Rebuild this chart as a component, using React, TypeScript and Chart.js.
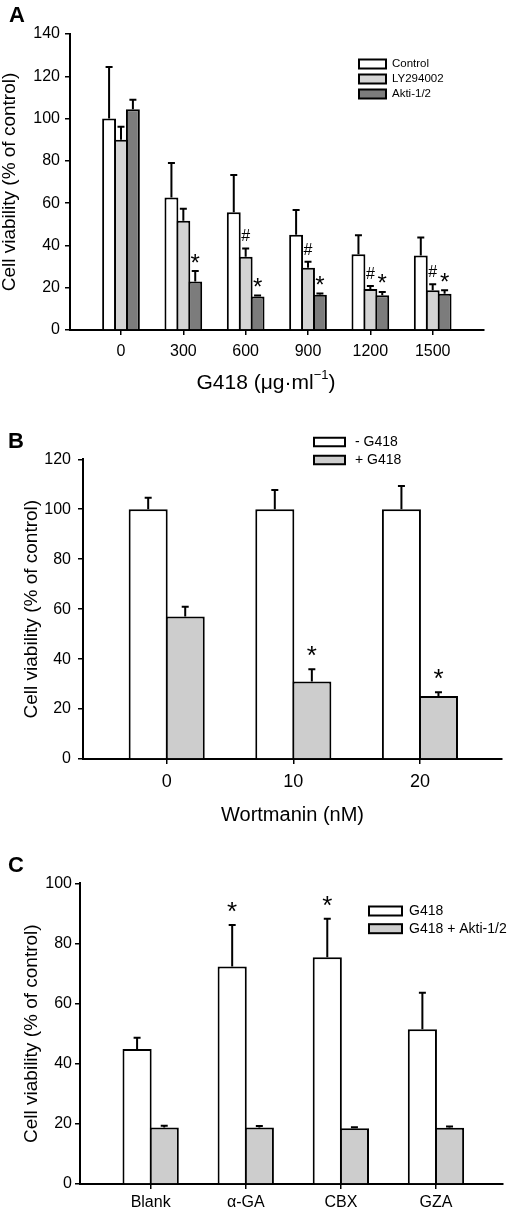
import React, { useEffect, useRef } from "react";
import { Chart, registerables } from "chart.js";

Chart.register(...registerables);

const FONT = "'Liberation Sans', Arial, Helvetica, sans-serif";

// ---------- Panel A ----------
const doseLabelsA = ["0", "300", "600", "900", "1200", "1500"];
const seriesNamesA = ["Control", "LY294002", "Akti-1/2"];
const controlA = [100, 62.7, 55.7, 45.1, 35.8, 35.2];
const controlErrA = [24.4, 16.3, 17.6, 11.7, 9.0, 8.6];
const lyA = [90, 51.7, 34.7, 29.5, 19.4, 18.8];
const lyErrA = [6.1, 5.7, 3.9, 2.8, 1.4, 2.8];
const aktiA = [104.4, 22.9, 15.9, 16.7, 16.4, 17.2];
const aktiErrA = [4.5, 5.0, 0.4, 0.6, 1.6, 1.6];
const controlMarksA = ["", "", "", "", "", ""];
const lyMarksA = ["", "", "#", "#", "#", "#"];
const aktiMarksA = ["", "*", "*", "*", "*", "*"];
const xTitleAParts = ["G418 (\u03bcg\u00b7ml", "\u22121", ")"];

// ---------- Panel B ----------
const wortLabelsB = ["0", "10", "20"];
const seriesNamesB = ["- G418", "+ G418"];
const minusG418B = [100, 100, 100];
const minusG418ErrB = [4.6, 7.7, 9.3];
const plusG418B = [57.1, 31.0, 25.2];
const plusG418ErrB = [3.9, 4.9, 1.5];
const minusMarksB = ["", "", ""];
const plusMarksB = ["", "*", "*"];
const xTitleB = "Wortmanin (nM)";

// ---------- Panel C ----------
const treatLabelsC = ["Blank", "\u03b1-GA", "CBX", "GZA"];
const seriesNamesC = ["G418", "G418 + Akti-1/2"];
const g418C = [44.9, 72.3, 75.4, 51.5];
const g418ErrC = [3.7, 13.8, 12.8, 12.1];
const g418AktiC = [18.8, 18.8, 18.5, 18.7];
const g418AktiErrC = [0.6, 0.5, 0.4, 0.4];
const g418MarksC = ["", "*", "*", ""];
const g418AktiMarksC = ["", "", "", ""];

const yTitle = "Cell viability (% of control)";

// ---------- styles / layout ----------
const WHITE = "#ffffff";
const LIGHT = "#d4d4d4";
const DARK = "#7c7c7c";
const GRAY = "#cdcdcd";

type Series = { label: string; values: number[]; errors: number[]; marks: string[]; color: string };

type Spec = {
  key: string;
  letter: string;
  letterPos: { x: number; y: number };
  top: number;
  height: number;
  padTop: number;
  padRight: number;
  yWidth: number;
  xHeight: number;
  yMax: number;
  xMin: number;
  xMax: number;
  labels: string[];
  series: Series[];
  catPct: number;
  barPct: number;
  yTickSize: number;
  yTickPad: number;
  yTitlePad: number;
  xTickSize: number;
  xTickPad: number;
  xTitle: string | null;
  xTitleSize: number;
  xTitlePadBottom: number;
  customXTitle: { x: number; y: number; size: number } | null;
  legend: { x: number; y0: number; dy: number; boxW: number; boxH: number; textX: number; size: number };
  markOffset: number;
  starSize: number;
  hashSize: number;
  cap: number;
};

const panelA: Spec = {
  key: "A",
  letter: "A",
  letterPos: { x: 9, y: 22 },
  top: 0,
  height: 400,
  padTop: 34,
  padRight: 27,
  yWidth: 70,
  xHeight: 70,
  yMax: 140,
  xMin: -0.818,
  xMax: 5.823,
  labels: doseLabelsA,
  series: [
    { label: seriesNamesA[0], values: controlA, errors: controlErrA, marks: controlMarksA, color: WHITE },
    { label: seriesNamesA[1], values: lyA, errors: lyErrA, marks: lyMarksA, color: LIGHT },
    { label: seriesNamesA[2], values: aktiA, errors: aktiErrA, marks: aktiMarksA, color: DARK },
  ],
  catPct: 0.573,
  barPct: 1.168,
  yTickSize: 16,
  yTickPad: 5,
  yTitlePad: 0,
  xTickSize: 16,
  xTickPad: 7.4,
  xTitle: null,
  xTitleSize: 0,
  xTitlePadBottom: 0,
  customXTitle: { x: 266, y: 383, size: 21 },
  legend: { x: 359, y0: 64, dy: 15, boxW: 27, boxH: 9, textX: 392, size: 11.5 },
  markOffset: 13,
  starSize: 24,
  hashSize: 16,
  cap: 7,
};

const panelB: Spec = {
  key: "B",
  letter: "B",
  letterPos: { x: 8, y: 48 },
  top: 400,
  height: 430,
  padTop: 59.3,
  padRight: 9,
  yWidth: 83,
  xHeight: 71,
  yMax: 120,
  xMin: -0.661,
  xMax: 2.648,
  labels: wortLabelsB,
  series: [
    { label: seriesNamesB[0], values: minusG418B, errors: minusG418ErrB, marks: minusMarksB, color: WHITE },
    { label: seriesNamesB[1], values: plusG418B, errors: plusG418ErrB, marks: plusMarksB, color: GRAY },
  ],
  catPct: 0.585,
  barPct: 1.054,
  yTickSize: 16,
  yTickPad: 7,
  yTitlePad: 22,
  xTickSize: 18,
  xTickPad: 6.9,
  xTitle: xTitleB,
  xTitleSize: 20,
  xTitlePadBottom: 3,
  customXTitle: null,
  legend: { x: 314, y0: 42, dy: 18, boxW: 31, boxH: 8.5, textX: 355, size: 14 },
  markOffset: 18,
  starSize: 26,
  hashSize: 16,
  cap: 7,
};

const panelC: Spec = {
  key: "C",
  letter: "C",
  letterPos: { x: 8, y: 42 },
  top: 830,
  height: 385,
  padTop: 53.3,
  padRight: 8,
  yWidth: 80,
  xHeight: 31,
  yMax: 100,
  xMin: -0.743,
  xMax: 3.705,
  labels: treatLabelsC,
  series: [
    { label: seriesNamesC[0], values: g418C, errors: g418ErrC, marks: g418MarksC, color: WHITE },
    { label: seriesNamesC[1], values: g418AktiC, errors: g418AktiErrC, marks: g418AktiMarksC, color: GRAY },
  ],
  catPct: 0.571,
  barPct: 1.074,
  yTickSize: 16,
  yTickPad: 3,
  yTitlePad: 22,
  xTickSize: 16,
  xTickPad: 4.4,
  xTitle: null,
  xTitleSize: 0,
  xTitlePadBottom: 0,
  customXTitle: null,
  legend: { x: 369, y0: 81, dy: 17.7, boxW: 33, boxH: 9, textX: 409, size: 14 },
  markOffset: 18,
  starSize: 26,
  hashSize: 16,
  cap: 7,
};

const panels = [panelA, panelB, panelC];

function makePlugins(p: Spec) {
  const errorBars = {
    id: "errorBars" + p.key,
    afterDatasetsDraw(chart: any) {
      const ctx = chart.ctx;
      const y = chart.scales.y;
      ctx.save();
      ctx.strokeStyle = "#000";
      ctx.lineWidth = 2;
      chart.data.datasets.forEach((ds: any, d: number) => {
        const meta = chart.getDatasetMeta(d);
        meta.data.forEach((bar: any, i: number) => {
          const v = ds.data[i].y;
          const e = ds.errors[i];
          const top = y.getPixelForValue(v + e);
          ctx.beginPath();
          ctx.moveTo(bar.x, bar.y);
          ctx.lineTo(bar.x, top);
          ctx.moveTo(bar.x - p.cap / 2, top);
          ctx.lineTo(bar.x + p.cap / 2, top);
          ctx.stroke();
        });
      });
      ctx.restore();
    },
  };

  const marks = {
    id: "marks" + p.key,
    afterDatasetsDraw(chart: any) {
      const ctx = chart.ctx;
      const y = chart.scales.y;
      ctx.save();
      ctx.fillStyle = "#000";
      ctx.textAlign = "center";
      ctx.textBaseline = "alphabetic";
      chart.data.datasets.forEach((ds: any, d: number) => {
        const meta = chart.getDatasetMeta(d);
        meta.data.forEach((bar: any, i: number) => {
          const m = ds.marks[i];
          if (!m) return;
          const v = ds.data[i].y;
          const e = ds.errors[i];
          const cy = y.getPixelForValue(v + e) - p.markOffset;
          ctx.font = m === "*" ? `${p.starSize}px ${FONT}` : `${p.hashSize}px ${FONT}`;
          const tm = ctx.measureText(m);
          const asc = tm.actualBoundingBoxAscent;
          const desc = tm.actualBoundingBoxDescent;
          ctx.fillText(m, bar.x, cy + (asc - desc) / 2);
        });
      });
      ctx.restore();
    },
  };

  const legendAndLabels = {
    id: "legendLabels" + p.key,
    afterDraw(chart: any) {
      const ctx = chart.ctx;
      const L = p.legend;
      ctx.save();
      chart.data.datasets.forEach((ds: any, d: number) => {
        const yc = L.y0 + d * L.dy;
        ctx.fillStyle = ds.backgroundColor;
        ctx.fillRect(L.x, yc - L.boxH / 2, L.boxW, L.boxH);
        ctx.lineWidth = 2;
        ctx.strokeStyle = "#000";
        ctx.strokeRect(L.x, yc - L.boxH / 2, L.boxW, L.boxH);
        ctx.fillStyle = "#000";
        ctx.font = `${L.size}px ${FONT}`;
        ctx.textAlign = "left";
        ctx.textBaseline = "middle";
        ctx.fillText(ds.label, L.textX, yc);
      });
      // panel letter
      ctx.fillStyle = "#000";
      ctx.font = `bold 22px ${FONT}`;
      ctx.textAlign = "left";
      ctx.textBaseline = "alphabetic";
      ctx.fillText(p.letter, p.letterPos.x, p.letterPos.y);
      // custom x title with superscript
      if (p.customXTitle) {
        const T = p.customXTitle;
        const baseFont = `${T.size}px ${FONT}`;
        const supFont = `${Math.round(T.size * 0.62)}px ${FONT}`;
        const parts = [
          { t: xTitleAParts[0], f: baseFont, dy: 0 },
          { t: xTitleAParts[1], f: supFont, dy: -T.size * 0.38 },
          { t: xTitleAParts[2], f: baseFont, dy: 0 },
        ];
        let total = 0;
        const widths = parts.map((pt) => {
          ctx.font = pt.f;
          const w = ctx.measureText(pt.t).width;
          total += w;
          return w;
        });
        let x = T.x - total / 2;
        ctx.textBaseline = "middle";
        parts.forEach((pt, i) => {
          ctx.font = pt.f;
          ctx.fillText(pt.t, x, T.y + pt.dy);
          x += widths[i];
        });
      }
      ctx.restore();
    },
  };
  return [errorBars, marks, legendAndLabels];
}

function buildConfig(p: Spec): any {
  const datasets = p.series.map((s) => ({
    label: s.label,
    data: s.values.map((v, i) => ({ x: i, y: v })),
    errors: s.errors,
    marks: s.marks,
    backgroundColor: s.color,
    borderColor: "#000",
    borderWidth: 2,
    inflateAmount: 0,
    categoryPercentage: p.catPct,
    barPercentage: p.barPct,
  }));
  return {
    type: "bar",
    data: { datasets },
    plugins: makePlugins(p),
    options: {
      animation: false,
      responsive: false,
      devicePixelRatio: 1,
      layout: { padding: { left: 0, top: p.padTop, right: p.padRight, bottom: 0 } },
      plugins: { legend: { display: false }, tooltip: { enabled: false } },
      scales: {
        x: {
          type: "linear",
          min: p.xMin,
          max: p.xMax,
          offset: false,
          afterBuildTicks: (scale: any) => {
            scale.ticks = p.labels.map((_, i) => ({ value: i }));
          },
          afterFit: (scale: any) => {
            scale.height = p.xHeight;
          },
          ticks: {
            autoSkip: false,
            maxRotation: 0,
            minRotation: 0,
            color: "#000",
            padding: p.xTickPad,
            font: { size: p.xTickSize, family: FONT },
            callback: (v: number) => (p.labels[v] !== undefined ? p.labels[v] : ""),
          },
          grid: {
            display: true,
            offset: false,
            drawOnChartArea: false,
            drawTicks: true,
            tickLength: 5,
            tickWidth: 1.5,
            tickColor: "#000",
            color: "#000",
            lineWidth: 1.5,
          },
          border: { display: true, color: "#000", width: 2 },
          title: p.xTitle
            ? {
                display: true,
                text: p.xTitle,
                color: "#000",
                font: { size: p.xTitleSize, family: FONT },
                padding: { top: 0, bottom: p.xTitlePadBottom },
              }
            : { display: false },
        },
        y: {
          min: 0,
          max: p.yMax,
          afterFit: (scale: any) => {
            scale.width = p.yWidth;
          },
          ticks: {
            stepSize: 20,
            color: "#000",
            padding: p.yTickPad,
            font: { size: p.yTickSize, family: FONT },
          },
          grid: {
            display: true,
            drawOnChartArea: false,
            drawTicks: true,
            tickLength: 5,
            tickWidth: 1.5,
            tickColor: "#000",
            color: "#000",
            lineWidth: 1.5,
          },
          border: { display: true, color: "#000", width: 2 },
          title: {
            display: true,
            text: yTitle,
            color: "#000",
            font: { size: 19, family: FONT, lineHeight: 1 },
            padding: { top: p.yTitlePad, bottom: 0 },
          },
        },
      },
    },
  };
}

function PanelChart({ spec }: { spec: Spec }) {
  const ref = useRef<HTMLCanvasElement | null>(null);
  useEffect(() => {
    if (!ref.current) return;
    const chart = new Chart(ref.current, buildConfig(spec));
    return () => chart.destroy();
  }, [spec]);
  return (
    <canvas
      ref={ref}
      width={511}
      height={spec.height}
      style={{ position: "absolute", left: 0, top: spec.top, width: 511, height: spec.height, display: "block" }}
    />
  );
}

export default function App() {
  return (
    <div style={{ position: "absolute", left: 0, top: 0, width: 511, height: 1215, background: "#fff" }}>
      {panels.map((p) => (
        <PanelChart key={p.key} spec={p} />
      ))}
    </div>
  );
}
